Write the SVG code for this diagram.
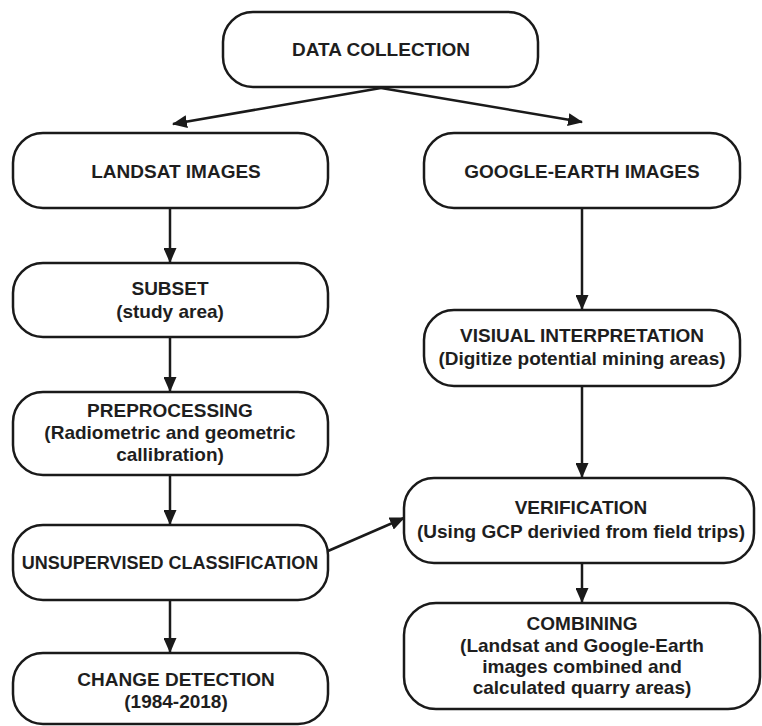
<svg xmlns="http://www.w3.org/2000/svg" width="762" height="726" viewBox="0 0 762 726">
<defs>
<style>
.box{fill:#fff;stroke:#1a1a1a;stroke-width:2.5}
.t{font-family:"Liberation Sans",Arial,sans-serif;font-weight:bold;font-size:19px;fill:#1e1e1e;text-anchor:middle}
.c{stroke:#1a1a1a;stroke-width:2.5;fill:none;marker-end:url(#ah)}
</style>
<marker id="ah" viewBox="0 0 15 13" refX="14" refY="6.5" markerWidth="15" markerHeight="13" markerUnits="userSpaceOnUse" orient="auto">
<path d="M0,0 L15,6.5 L0,13 Z" fill="#1a1a1a"/>
</marker>
</defs>
<rect width="762" height="726" fill="#fff"/>
<g id="connectors">
<line class="c" x1="381" y1="88" x2="173" y2="124"/>
<line class="c" x1="381" y1="88" x2="582" y2="122"/>
<line class="c" x1="170" y1="208" x2="170" y2="262"/>
<line class="c" x1="170" y1="337" x2="170" y2="391"/>
<line class="c" x1="170" y1="475" x2="170" y2="524"/>
<line class="c" x1="170" y1="600" x2="170" y2="652"/>
<line class="c" x1="582" y1="208" x2="582" y2="309"/>
<line class="c" x1="582" y1="386" x2="582" y2="477"/>
<line class="c" x1="582" y1="563" x2="582" y2="602"/>
<line class="c" x1="328" y1="551" x2="404" y2="518"/>
</g>
<g id="data-collection">
<rect class="box" x="223" y="12" width="315" height="75" rx="30"/>
<text class="t" x="381" y="56">DATA COLLECTION</text>
</g>
<g id="landsat">
<rect class="box" x="13" y="133" width="315" height="75" rx="30"/>
<text class="t" x="176" y="178">LANDSAT IMAGES</text>
</g>
<g id="google-earth">
<rect class="box" x="424" y="133" width="316" height="75" rx="30"/>
<text class="t" x="582" y="178">GOOGLE-EARTH IMAGES</text>
</g>
<g id="subset">
<rect class="box" x="13" y="263" width="315" height="74" rx="30"/>
<text class="t" x="170" y="295">SUBSET</text>
<text class="t" x="170" y="318">(study area)</text>
</g>
<g id="visual">
<rect class="box" x="424" y="310" width="316" height="76" rx="30"/>
<text class="t" x="582" y="342">VISIUAL INTERPRETATION</text>
<text class="t" x="582" y="365">(Digitize potential mining areas)</text>
</g>
<g id="preprocessing">
<rect class="box" x="13" y="392" width="315" height="83" rx="30"/>
<text class="t" x="170" y="417">PREPROCESSING</text>
<text class="t" x="170" y="439">(Radiometric and geometric</text>
<text class="t" x="170" y="461">callibration)</text>
</g>
<g id="verification">
<rect class="box" x="404" y="478" width="350" height="85" rx="30"/>
<text class="t" x="581" y="514">VERIFICATION</text>
<text class="t" x="581" y="538">(Using GCP derivied from field trips)</text>
</g>
<g id="unsupervised">
<rect class="box" x="13" y="525" width="315" height="75" rx="30"/>
<text class="t" x="170" y="569" style="font-size:18px">UNSUPERVISED CLASSIFICATION</text>
</g>
<g id="combining">
<rect class="box" x="404" y="603" width="356" height="106" rx="32"/>
<text class="t" x="582" y="630">COMBINING</text>
<text class="t" x="582" y="652">(Landsat and Google-Earth</text>
<text class="t" x="582" y="673">images combined and</text>
<text class="t" x="582" y="694">calculated quarry areas)</text>
</g>
<g id="change-detection">
<rect class="box" x="13" y="653" width="315" height="71" rx="30"/>
<text class="t" x="176" y="686">CHANGE DETECTION</text>
<text class="t" x="176" y="708">(1984-2018)</text>
</g>
</svg>
